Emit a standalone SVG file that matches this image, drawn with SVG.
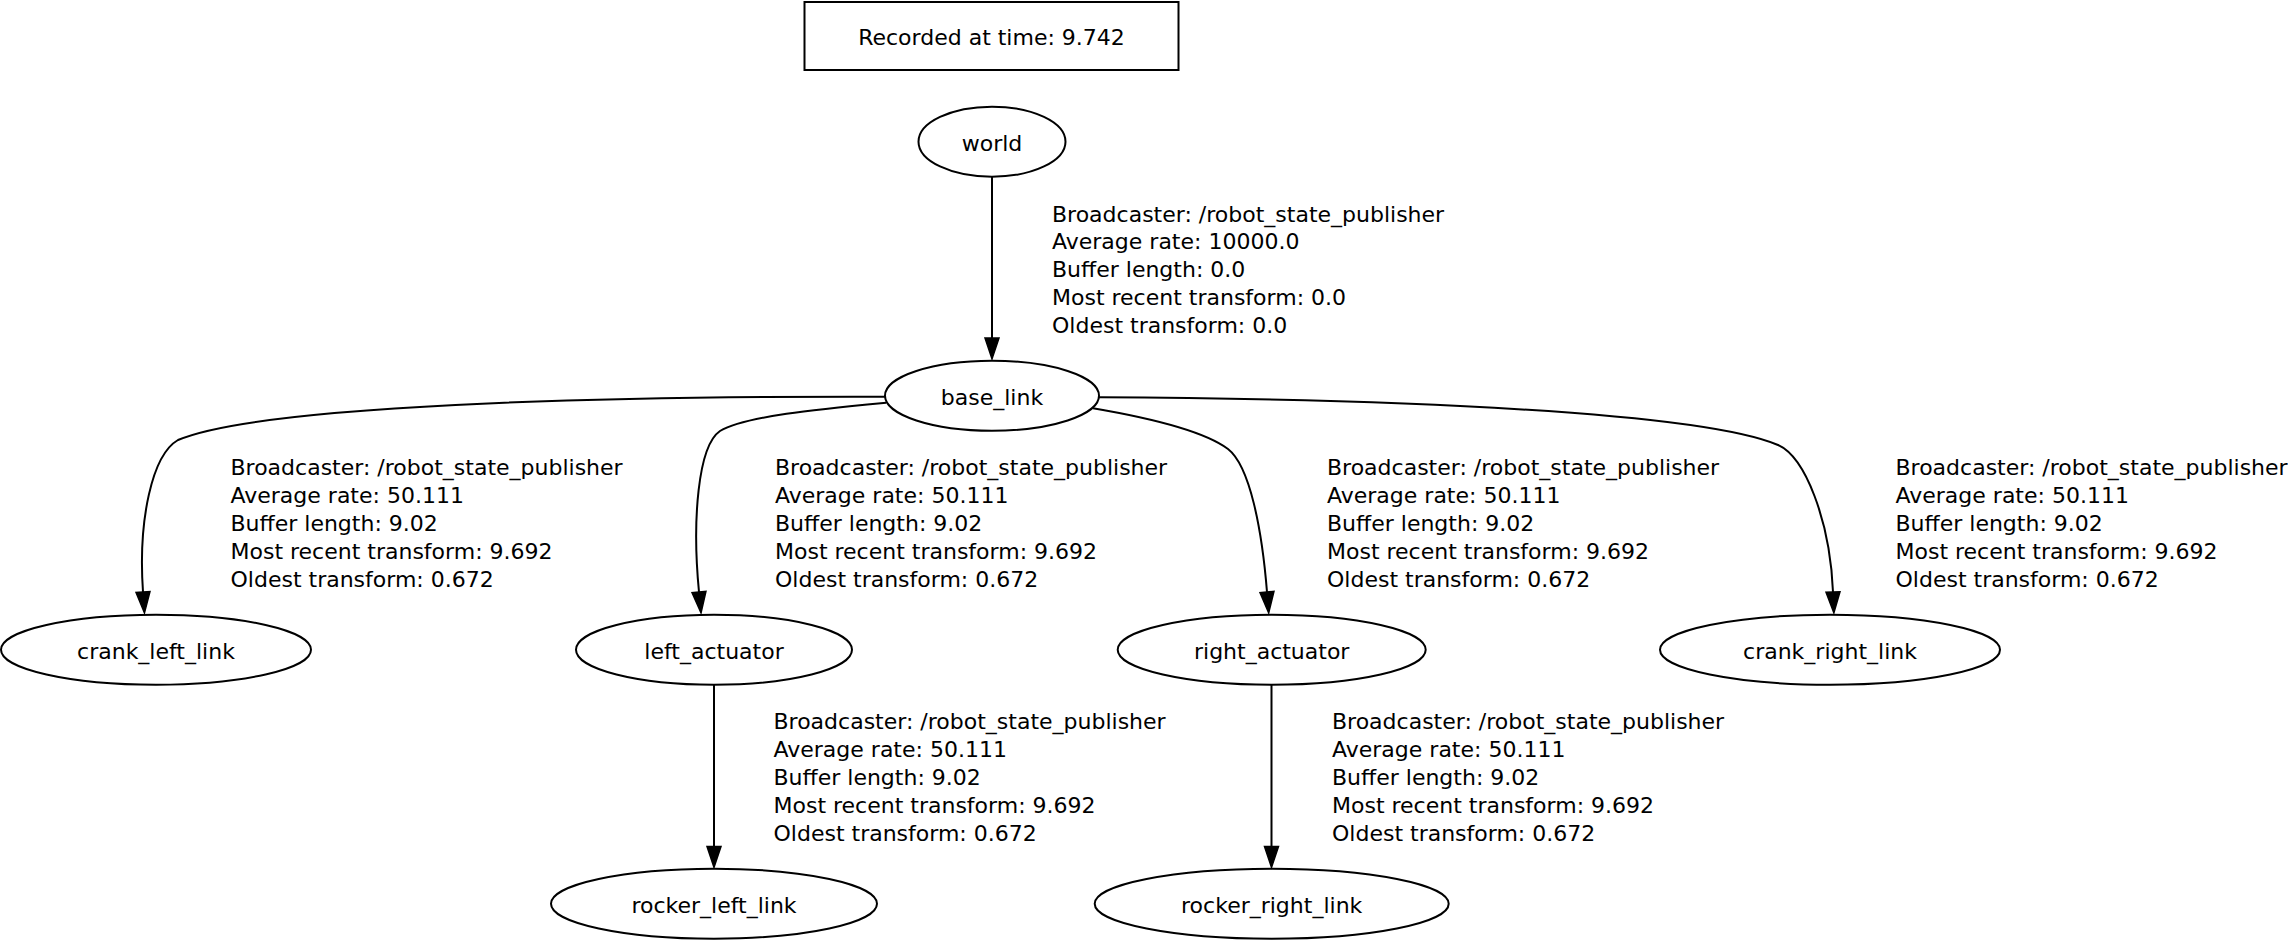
<svg xmlns="http://www.w3.org/2000/svg" width="2288" height="940" viewBox="0 0 2288 940">
<style>
  text { font-family: "DejaVu Sans", "Liberation Sans", sans-serif; font-size: 22px; fill: #000; }
  .node ellipse, .node rect { fill: none; stroke: #000; stroke-width: 2; }
  .nl { text-anchor: middle; }
  .edge path { fill: none; stroke: #000; stroke-width: 2; }
</style>
<defs>
  <marker id="arrow" markerUnits="userSpaceOnUse" markerWidth="24" markerHeight="18" viewBox="0 -9 24 18" refX="0" refY="0" orient="auto" overflow="visible">
    <path d="M0,-7 L21,0 L0,7 Z" fill="#000" stroke="#000" stroke-width="1.5" stroke-linejoin="miter"/>
  </marker>
</defs>
<rect width="2288" height="940" fill="#fff"/>

<g id="recorded_time" class="node">
  <rect x="804.5" y="2" width="374" height="68"/>
  <text class="nl" x="991.5" y="45">Recorded at time: 9.742</text>
</g>

<g id="world" class="node">
  <ellipse cx="992" cy="141.7" rx="73.5" ry="35"/>
  <text class="nl" x="992" y="151">world</text>
</g>
<g id="base_link" class="node">
  <ellipse cx="992" cy="395.7" rx="107" ry="35"/>
  <text class="nl" x="992" y="404.5">base_link</text>
</g>
<g id="crank_left_link" class="node">
  <ellipse cx="156" cy="649.7" rx="155" ry="35"/>
  <text class="nl" x="156" y="658.5">crank_left_link</text>
</g>
<g id="left_actuator" class="node">
  <ellipse cx="714" cy="649.7" rx="138" ry="35"/>
  <text class="nl" x="714" y="658.5">left_actuator</text>
</g>
<g id="right_actuator" class="node">
  <ellipse cx="1271.7" cy="649.7" rx="154" ry="35"/>
  <text class="nl" x="1271.7" y="658.5">right_actuator</text>
</g>
<g id="crank_right_link" class="node">
  <ellipse cx="1830" cy="649.7" rx="170" ry="35"/>
  <text class="nl" x="1830" y="658.5">crank_right_link</text>
</g>
<g id="rocker_left_link" class="node">
  <ellipse cx="714" cy="903.7" rx="163" ry="35"/>
  <text class="nl" x="714" y="912.5">rocker_left_link</text>
</g>
<g id="rocker_right_link" class="node">
  <ellipse cx="1271.7" cy="903.7" rx="177" ry="35"/>
  <text class="nl" x="1271.7" y="912.5">rocker_right_link</text>
</g>

<g id="connectors" class="edge">
  <g id="world_to_base_link">
    <path d="M992,177 L992,338" marker-end="url(#arrow)"/>
    <text x="1052" y="221.5">Broadcaster: /robot_state_publisher</text>
    <text x="1052" y="249.4">Average rate: 10000.0</text>
    <text x="1052" y="277.3">Buffer length: 0.0</text>
    <text x="1052" y="305.2">Most recent transform: 0.0</text>
    <text x="1052" y="333.1">Oldest transform: 0.0</text>
  </g>
  <g id="base_link_to_crank_left_link">
    <path d="M886,396.7 C600,396 260,405 178,440 C152,455 138,520 143,592" marker-end="url(#arrow)"/>
    <text x="230.5" y="475.3">Broadcaster: /robot_state_publisher</text>
    <text x="230.5" y="503.2">Average rate: 50.111</text>
    <text x="230.5" y="531.1">Buffer length: 9.02</text>
    <text x="230.5" y="559">Most recent transform: 9.692</text>
    <text x="230.5" y="586.9">Oldest transform: 0.672</text>
  </g>
  <g id="base_link_to_left_actuator">
    <path d="M886,402.7 C820,409 745,416 720,431 C698,446 692,520 699,592" marker-end="url(#arrow)"/>
    <text x="775" y="475.3">Broadcaster: /robot_state_publisher</text>
    <text x="775" y="503.2">Average rate: 50.111</text>
    <text x="775" y="531.1">Buffer length: 9.02</text>
    <text x="775" y="559">Most recent transform: 9.692</text>
    <text x="775" y="586.9">Oldest transform: 0.672</text>
  </g>
  <g id="base_link_to_right_actuator">
    <path d="M1093,408.3 C1150,418 1205,432 1228,449 C1250,466 1262,530 1267,592" marker-end="url(#arrow)"/>
    <text x="1327" y="475.3">Broadcaster: /robot_state_publisher</text>
    <text x="1327" y="503.2">Average rate: 50.111</text>
    <text x="1327" y="531.1">Buffer length: 9.02</text>
    <text x="1327" y="559">Most recent transform: 9.692</text>
    <text x="1327" y="586.9">Oldest transform: 0.672</text>
  </g>
  <g id="base_link_to_crank_right_link">
    <path d="M1099,397.3 C1400,399 1700,412 1778,445 C1805,457 1830,520 1833,592" marker-end="url(#arrow)"/>
    <text x="1895.5" y="475.3">Broadcaster: /robot_state_publisher</text>
    <text x="1895.5" y="503.2">Average rate: 50.111</text>
    <text x="1895.5" y="531.1">Buffer length: 9.02</text>
    <text x="1895.5" y="559">Most recent transform: 9.692</text>
    <text x="1895.5" y="586.9">Oldest transform: 0.672</text>
  </g>
  <g id="left_actuator_to_rocker_left_link">
    <path d="M714,685 L714,846.5" marker-end="url(#arrow)"/>
    <text x="773.5" y="729.3">Broadcaster: /robot_state_publisher</text>
    <text x="773.5" y="757.2">Average rate: 50.111</text>
    <text x="773.5" y="785.1">Buffer length: 9.02</text>
    <text x="773.5" y="813">Most recent transform: 9.692</text>
    <text x="773.5" y="840.9">Oldest transform: 0.672</text>
  </g>
  <g id="right_actuator_to_rocker_right_link">
    <path d="M1271.5,685 L1271.5,846.5" marker-end="url(#arrow)"/>
    <text x="1332" y="729.3">Broadcaster: /robot_state_publisher</text>
    <text x="1332" y="757.2">Average rate: 50.111</text>
    <text x="1332" y="785.1">Buffer length: 9.02</text>
    <text x="1332" y="813">Most recent transform: 9.692</text>
    <text x="1332" y="840.9">Oldest transform: 0.672</text>
  </g>
</g>
</svg>
